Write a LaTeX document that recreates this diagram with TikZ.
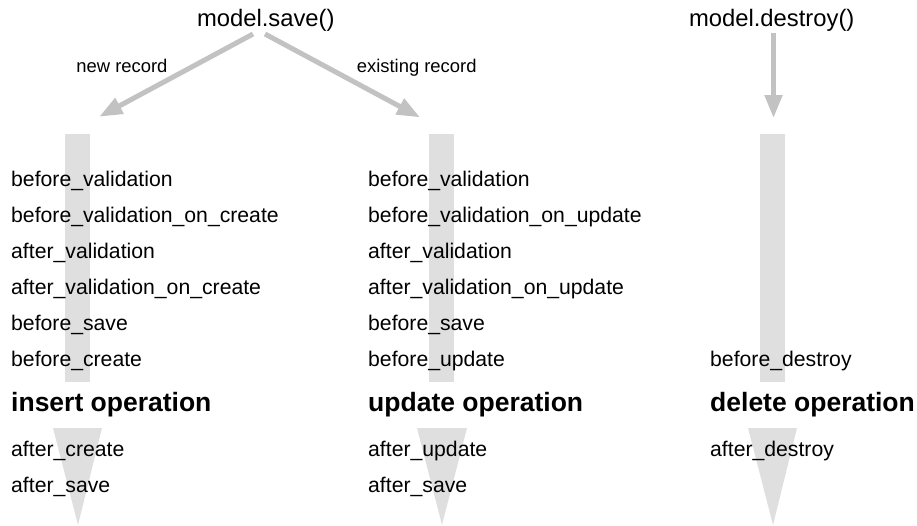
\documentclass[tikz,border=0pt]{standalone}
\usepackage{fontspec}
\setmainfont{Liberation Sans}
\usetikzlibrary{arrows.meta}
\definecolor{barcol}{HTML}{DFDFDF}
\definecolor{arrcol}{HTML}{C2C2C2}
\begin{document}
\begin{tikzpicture}[x=1pt,y=-1pt,
  hook/.style={anchor=base west, inner sep=0pt, font=\fontsize{21.2}{24}\selectfont},
  op/.style={anchor=base west, inner sep=0pt, font=\fontsize{26.5}{30}\selectfont\bfseries},
  call/.style={anchor=base, inner sep=0pt, font=\fontsize{23.8}{28}\selectfont},
  branch/.style={anchor=base, inner sep=0pt, font=\fontsize{18.4}{22}\selectfont},
  flow/.style={draw=arrcol, line width=5pt, -{Triangle[length=23pt,width=17pt]}},
  bar/.style={fill=barcol}]
\useasboundingbox (0,0) rectangle (917,525);
% background flow bars
\fill[bar] (65,134) rectangle (90,382);
\fill[bar] (53,428) -- (102,428) -- (78,525) -- cycle;
\fill[bar] (429,134) rectangle (454,382);
\fill[bar] (417,428) -- (467,428) -- (442,525) -- cycle;
\fill[bar] (760,134) rectangle (785,382);
\fill[bar] (748,428) -- (797,428) -- (773,525) -- cycle;
% top calls
\node[call] (save) at (265.8,26) {model.save()};
\node[call] (destroy) at (771.7,26) {model.destroy()};
\node[branch] (newrec) at (122,72.7) {new record};
\node[branch] (existrec) at (416.7,72.7) {existing record};
\coordinate (saveL) at (253,34);
\coordinate (saveR) at (265,34);
\coordinate (tipL) at (99.3,116.7);
\coordinate (tipR) at (420,117.3);
\coordinate (destStart) at (773.5,33);
\coordinate (tipD) at (773.5,118);
\draw[flow] (saveL) -- (tipL);
\draw[flow] (saveR) -- (tipR);
\draw[flow] (destStart) -- (tipD);
% insert column
\node[hook] (i1) at (11,186) {before\_validation};
\node[hook] (i2) at (11,222) {before\_validation\_on\_create};
\node[hook] (i3) at (11,258) {after\_validation};
\node[hook] (i4) at (11,294) {after\_validation\_on\_create};
\node[hook] (i5) at (11,330) {before\_save};
\node[hook] (i6) at (11,366) {before\_create};
\node[op] (iop) at (11,411.5) {insert operation};
\node[hook] (i7) at (11,456) {after\_create};
\node[hook] (i8) at (11,492) {after\_save};
% update column
\node[hook] (u1) at (368,186) {before\_validation};
\node[hook] (u2) at (368,222) {before\_validation\_on\_update};
\node[hook] (u3) at (368,258) {after\_validation};
\node[hook] (u4) at (368,294) {after\_validation\_on\_update};
\node[hook] (u5) at (368,330) {before\_save};
\node[hook] (u6) at (368,366) {before\_update};
\node[op] (uop) at (368,411.5) {update operation};
\node[hook] (u7) at (368,456) {after\_update};
\node[hook] (u8) at (368,492) {after\_save};
% delete column
\node[hook] (d1) at (710,366) {before\_destroy};
\node[op] (dop) at (710,411.5) {delete operation};
\node[hook] (d2) at (710,456) {after\_destroy};
\end{tikzpicture}
\end{document}
